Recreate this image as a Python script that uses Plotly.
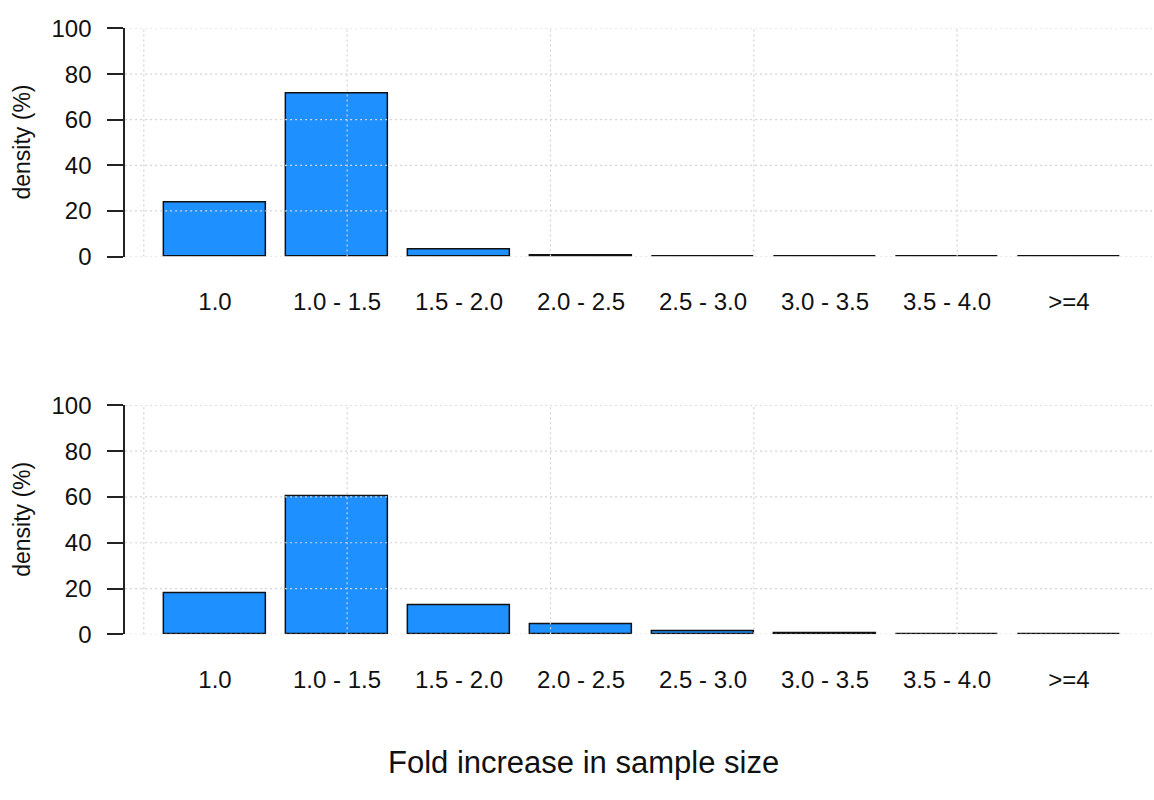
import plotly.graph_objects as go

# Bin labels and density (%) per panel
categories = ["1.0", "1.0 - 1.5", "1.5 - 2.0", "2.0 - 2.5",
              "2.5 - 3.0", "3.0 - 3.5", "3.5 - 4.0", ">=4"]
density_top = [23.7, 71.6, 3.1, 0.4, 0.1, 0.05, 0.05, 0.05]
density_bottom = [17.9, 60.4, 12.6, 4.3, 1.3, 0.5, 0.2, 0.2]
y_ticks = [0, 20, 40, 60, 80, 100]
x_grid = [0, 2, 4, 6, 8]

# barplot-style positions: width 1, spacing 0.2
bar_pos = [0.7 + 1.2 * i for i in range(len(categories))]

W, H = 1154, 800
px_per_unit = 101.67
x0_px = 143.8
x_left = -0.184
x_right = (W - x0_px) / px_per_unit
x_dom = [(x0_px + x_left * px_per_unit) / W, 1.0]

dom_top = [1 - 251 / H, 1 - 15 / H]
dom_bot = [1 - 642 / H, 1 - 405 / H]

fig = go.Figure()
font_family = "Liberation Sans, Arial, sans-serif"

panels = [(density_top, "x", "y"), (density_bottom, "x2", "y2")]
for vals, xa, ya in panels:
    fig.add_trace(go.Bar(
        x=bar_pos, y=vals, width=1.0, xaxis=xa, yaxis=ya,
        marker=dict(color="#1E90FF", line=dict(color="#111111", width=1.5)),
        showlegend=False, hoverinfo="skip"))

axis_common_x = dict(
    range=[x_left, x_right], domain=x_dom, tickmode="array",
    tickvals=bar_pos, ticktext=categories, showgrid=False, zeroline=False,
    showline=False, ticks="outside", ticklen=24, tickcolor="rgba(0,0,0,0)",
    tickfont=dict(size=24, color="#111", family=font_family))
axis_common_y = dict(
    range=[0, 100], tickmode="array", tickvals=y_ticks, showgrid=False,
    zeroline=False, showline=True, linecolor="#222", linewidth=1.5,
    ticks="outside", ticklen=16, tickwidth=1.5, tickcolor="#222",
    ticklabelstandoff=11,
    tickfont=dict(size=24, color="#111", family=font_family))

fig.update_layout(
    width=W, height=H, margin=dict(l=0, r=0, t=0, b=0),
    paper_bgcolor="white", plot_bgcolor="white", bargap=0,
    xaxis=dict(anchor="y", **axis_common_x),
    yaxis=dict(anchor="x", domain=dom_top, **axis_common_y),
    xaxis2=dict(anchor="y2", **axis_common_x),
    yaxis2=dict(anchor="x2", domain=dom_bot, **axis_common_y),
)

# Dotted light-grey grid drawn over the bars
grid_line = dict(color="#D3D3D3", width=1.2, dash="2px,3px")
shapes = []
for xa, ya in [("x", "y"), ("x2", "y2")]:
    for gx in x_grid:
        shapes.append(dict(type="line", xref=xa, yref=f"{ya} domain",
                           x0=gx, x1=gx, y0=0, y1=1, layer="above", line=grid_line))
    for gy in y_ticks:
        shapes.append(dict(type="line", xref=f"{xa} domain", yref=ya,
                           x0=0, x1=1, y0=gy, y1=gy, layer="above", line=grid_line))
fig.update_layout(shapes=shapes)

label_font = dict(size=23, color="#111", family=font_family)
annotations = [
    dict(text="density (%)", x=22 / W, y=sum(dom_top) / 2, xref="paper", yref="paper",
         textangle=-90, showarrow=False, xanchor="center", yanchor="middle",
         font=label_font),
    dict(text="density (%)", x=22 / W, y=sum(dom_bot) / 2, xref="paper", yref="paper",
         textangle=-90, showarrow=False, xanchor="center", yanchor="middle",
         font=label_font),
    dict(text="Fold increase in sample size", x=584 / W, y=1 - 775 / H,
         xref="paper", yref="paper", showarrow=False, xanchor="center", yanchor="middle",
         font=dict(size=31, color="#111", family=font_family)),
]
fig.update_layout(annotations=annotations)

fig.write_html("out.html")
